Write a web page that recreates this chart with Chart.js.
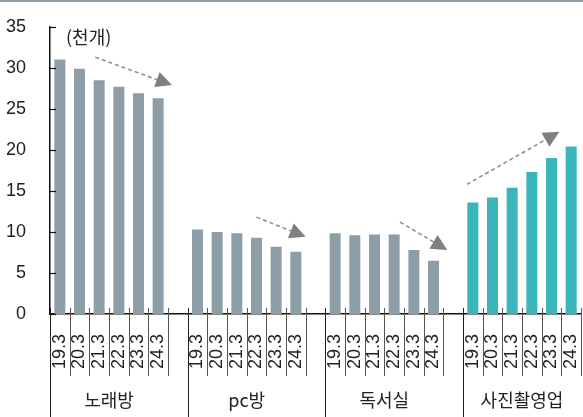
<!DOCTYPE html>
<html>
<head>
<meta charset="utf-8">
<script src="https://cdn.jsdelivr.net/npm/chart.js@4/dist/chart.umd.min.js"></script>
<style>
  html, body { margin: 0; padding: 0; background: #fff; }
  #wrap { width: 583px; height: 417px; position: relative; }
</style>
</head>
<body>
<div id="wrap"><canvas id="chart"></canvas></div>
<script>
// 데이터 (천개)
const groups = ['노래방', 'pc방', '독서실', '사진촬영업'];
const periods = ['19.3', '20.3', '21.3', '22.3', '23.3', '24.3'];
const noraebang = [31.0, 29.9, 28.5, 27.7, 26.9, 26.3];
const pcbang = [10.3, 10.0, 9.85, 9.3, 8.2, 7.6];
const dokseosil = [9.85, 9.6, 9.7, 9.7, 7.8, 6.5];
const photoStudio = [13.6, 14.2, 15.4, 17.3, 19.0, 20.4];
const yTicks = [0, 5, 10, 15, 20, 25, 30, 35];
const unitLabel = '(천개)';
// 추세 화살표: [시작 슬롯, 시작 값, 끝 슬롯, 끝 값]
const trendArrows = [
  [1.8, 31.3, 5.7, 27.9],
  [10.0, 11.8, 12.5, 9.4],
  [17.3, 11.2, 19.7, 7.8],
  [20.7, 15.8, 25.4, 22.2]
];

const seriesList = [noraebang, pcbang, dokseosil, photoStudio];
const GRAY = '#8e9ea9';
const TEAL = '#3ab5b9';

// 그룹 사이에 빈 칸 하나씩 넣어서 라벨/값 배열 만들기
const labels = [];
const values = [];
const colors = [];
const groupStarts = [];
seriesList.forEach((arr, g) => {
  if (g > 0) { labels.push(''); values.push(null); colors.push('rgba(0,0,0,0)'); }
  groupStarts.push(labels.length);
  arr.forEach((v, i) => {
    labels.push(periods[i]);
    values.push(v);
    colors.push(g === 3 ? TEAL : GRAY);
  });
});

const decorPlugin = {
  id: 'decor',
  afterDraw(chart) {
    const c = chart.ctx;
    const xs = chart.scales.x;
    const ys = chart.scales.y;
    const area = chart.chartArea;
    const H = chart.height;
    const half = (xs.getPixelForValue(1) - xs.getPixelForValue(0)) / 2;

    c.save();
    // 맨 위 가로선
    c.fillStyle = '#8e9daa';
    c.fillRect(0, 0, chart.width, 2);

    // y축 눈금 (안쪽)
    c.strokeStyle = '#111';
    c.lineWidth = 1.2;
    yTicks.forEach(t => {
      const y = Math.round(ys.getPixelForValue(t)) + 0.5;
      c.beginPath();
      c.moveTo(area.left, y);
      c.lineTo(area.left + 6, y);
      c.stroke();
    });

    // x축 구분선
    for (let i = 0; i <= labels.length; i++) {
      const x = Math.round(xs.getPixelForValue(i) - half) + 0.5;
      const isStart = groupStarts.includes(i);
      c.strokeStyle = isStart ? '#222' : '#555';
      c.lineWidth = 1;
      c.beginPath();
      c.moveTo(x, area.bottom - 6);
      c.lineTo(x, isStart ? H : area.bottom + 62);
      c.stroke();
    }

    // 그룹 이름
    c.fillStyle = '#222';
    c.font = '18px "Noto Sans CJK KR", sans-serif';
    c.textAlign = 'center';
    c.textBaseline = 'middle';
    groups.forEach((name, g) => {
      const s = groupStarts[g];
      const cx = (xs.getPixelForValue(s) + xs.getPixelForValue(s + periods.length - 1)) / 2;
      c.fillText(name, cx, H - 17);
    });

    // 단위
    c.textAlign = 'left';
    c.fillText(unitLabel, area.left + 16, area.top + 10);

    // 추세 화살표
    trendArrows.forEach(a => {
      const x1 = xs.getPixelForValue(a[0]);
      const y1 = ys.getPixelForValue(a[1]);
      const x2 = xs.getPixelForValue(a[2]);
      const y2 = ys.getPixelForValue(a[3]);
      const ang = Math.atan2(y2 - y1, x2 - x1);
      const headLen = 16;
      const headW = 8;
      const bx = x2 - headLen * Math.cos(ang);
      const by = y2 - headLen * Math.sin(ang);
      c.strokeStyle = '#8a8a8a';
      c.lineWidth = 1.5;
      c.setLineDash([4, 3]);
      c.beginPath();
      c.moveTo(x1, y1);
      c.lineTo(bx, by);
      c.stroke();
      c.setLineDash([]);
      c.fillStyle = '#808080';
      c.beginPath();
      c.moveTo(x2, y2);
      c.lineTo(bx + headW * Math.sin(ang), by - headW * Math.cos(ang));
      c.lineTo(bx - headW * Math.sin(ang), by + headW * Math.cos(ang));
      c.closePath();
      c.fill();
    });
    c.restore();
  }
};

new Chart(document.getElementById('chart'), {
  type: 'bar',
  data: {
    labels: labels,
    datasets: [{
      data: values,
      backgroundColor: colors,
      categoryPercentage: 1,
      barPercentage: 0.56
    }]
  },
  options: {
    responsive: true,
    maintainAspectRatio: false,
    animation: false,
    layout: { padding: { top: 24, right: 2 } },
    plugins: { legend: { display: false }, tooltip: { enabled: false } },
    scales: {
      x: {
        offset: true,
        grid: { display: false },
        border: { display: true, color: '#111', width: 1.5 },
        ticks: {
          autoSkip: false,
          maxRotation: 90,
          minRotation: 90,
          padding: 12,
          color: '#222',
          font: { family: 'Liberation Sans, Arial, sans-serif', size: 18 }
        },
        afterFit(scale) {
          scale.height = 103;
          scale.paddingLeft = 0;
          scale.paddingRight = 0;
        }
      },
      y: {
        min: 0,
        max: 35,
        grid: { display: false },
        border: { display: true, color: '#111', width: 1.5 },
        ticks: {
          stepSize: 5,
          padding: 16,
          color: '#222',
          font: { family: 'Liberation Sans, Arial, sans-serif', size: 18 }
        },
        afterFit(scale) { scale.width = 50; }
      }
    }
  },
  plugins: [decorPlugin]
});
</script>
</body>
</html>
